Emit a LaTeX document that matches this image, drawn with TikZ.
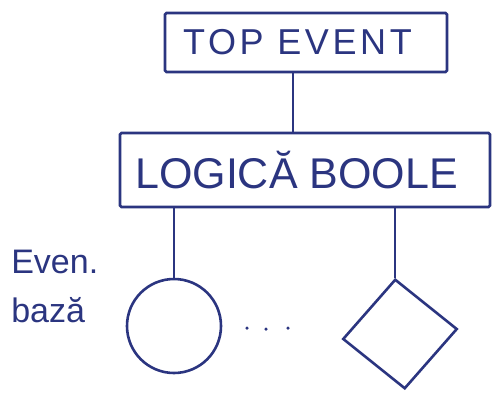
\documentclass[tikz,border=0pt]{standalone}
\usepackage{fontspec}
\setmainfont{Liberation Sans}
\usetikzlibrary{shapes.geometric}
\definecolor{ink}{HTML}{2B3580}
\begin{document}
\begin{tikzpicture}[x=1pt,y=-1pt,line width=2.6pt,draw=ink,text=ink,
  box/.style={draw,rectangle,rounded corners=1.5pt,inner sep=0pt},
  evt/.style={draw,circle,inner sep=0pt,minimum size=94pt},
  und/.style={draw,diamond,inner sep=0pt,minimum width=115pt,minimum height=110pt,rotate=5},
  dotmark/.style={circle,fill=ink,inner sep=0pt,minimum size=3.5pt},
  lbl/.style={anchor=west,inner sep=0pt,font=\fontsize{34}{36}\selectfont}]
\useasboundingbox (0,0) rectangle (493,392);
\node[box,minimum width=282pt,minimum height=59pt,font=\fontsize{36}{38}\selectfont] (top) at (306,42.5) {\hspace*{-17pt}\addfontfeature{LetterSpace=10}TOP EVENT};
\node[box,minimum width=370pt,minimum height=74pt,font=\fontsize{43}{46}\selectfont] (logic) at (305,170) {\hspace*{-17pt}LOGICĂ BOOLE};
\node[evt] (circ) at (174,326) {};
\node[und] (dia) at (400,334) {};
\node[dotmark] (d1) at (247,328) {};
\node[dotmark] (d2) at (266,329) {};
\node[dotmark] (d3) at (288,328) {};
\node[lbl] (ev1) at (10,262) {Even.};
\node[lbl] (ev2) at (10,310) {bază};
\coordinate (c1) at ([xshift=-13pt]top.south);
\draw (c1) -- (c1 |- logic.north);
\draw (logic.south -| circ.north) -- (circ.north);
\draw (logic.south -| dia.north) -- (dia.north);
\end{tikzpicture}
\end{document}
